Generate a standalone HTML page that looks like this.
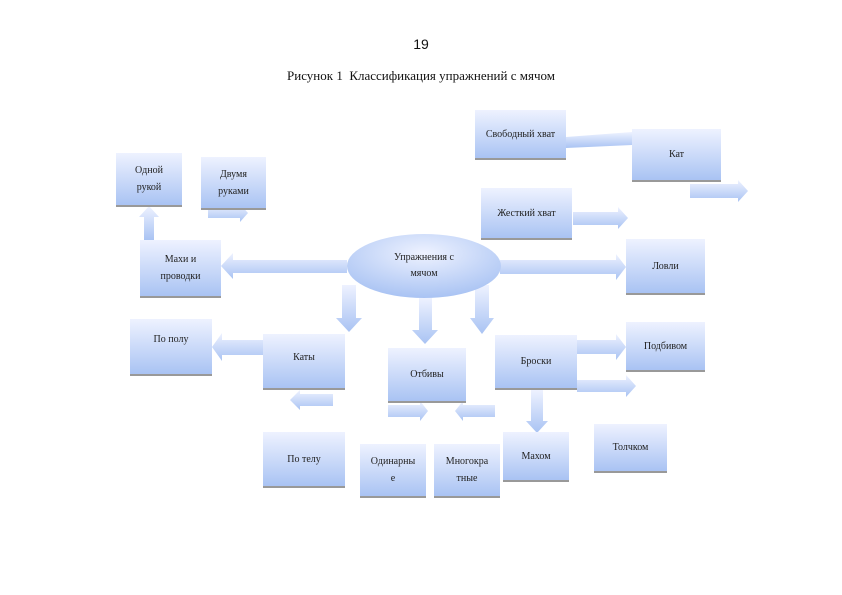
<!DOCTYPE html>
<html><head><meta charset="utf-8"><style>
body{margin:0;width:842px;height:595px;background:#fff;position:relative;overflow:hidden;font-family:"Liberation Serif",serif}
.b{position:absolute;background:linear-gradient(#eef2ff,#a9c3f3);border-bottom:2px solid #999;display:flex;align-items:center;justify-content:center;text-align:center;font-size:10px;line-height:17px;color:#222;box-sizing:border-box}
.t{position:absolute;width:842px;text-align:center;color:#111}
</style></head><body>
<div class="t" style="top:36px;font-family:'Liberation Sans',sans-serif;font-size:14px">19</div>
<div class="t" style="top:68px;font-size:13px">Рисунок 1&nbsp; Классификация упражнений с мячом</div>
<svg width="842" height="595" style="position:absolute;left:0;top:0">
<defs>
<linearGradient id="g" x1="0" y1="0" x2="0" y2="1"><stop offset="0" stop-color="#eef2ff"/><stop offset="1" stop-color="#a9c3f3"/></linearGradient>
<linearGradient id="h" x1="0" y1="0" x2="1" y2="0"><stop offset="0" stop-color="#eef2ff"/><stop offset="1" stop-color="#a9c3f3"/></linearGradient>
<radialGradient id="e" cx="0.5" cy="0.3" r="0.7"><stop offset="0" stop-color="#eef2ff"/><stop offset="1" stop-color="#a9c3f3"/></radialGradient>
</defs>
<g fill="url(#g)">
<!-- horizontal arrows -->
<polygon points="208,209 240,209 240,204 248,213 240,222 240,218 208,218"/>
<polygon points="233,260 347,260 347,273 233,273 233,279 221,266 233,253"/>
<polygon points="566,137 632,132 632,145 566,148"/>
<polygon points="690,184 738,184 738,180 748,191 738,202 738,198 690,198"/>
<polygon points="573,212 618,212 618,207 628,218 618,229 618,225 573,225"/>
<polygon points="500,260 616,260 616,254 626,267 616,280 616,274 500,274"/>
<polygon points="222,340 263,340 263,355 222,355 222,361 212,347 222,333"/>
<polygon points="300,394 333,394 333,406 300,406 300,410 290,400 300,390"/>
<polygon points="388,405 420,405 420,401 428,411 420,421 420,417 388,417"/>
<polygon points="463,405 495,405 495,417 463,417 463,421 455,411 463,401"/>
<polygon points="577,340 616,340 616,334 626,347 616,360 616,354 577,354"/>
<polygon points="577,380 626,380 626,375 636,386 626,397 626,392 577,392"/>
<!-- vertical arrows -->
<polygon points="144,240 144,217 139,217 149,206 159,217 154,217 154,240"/>
<polygon points="342,285 356,285 356,318 362,318 349,332 336,318 342,318"/>
<polygon points="419,298 432,298 432,330 438,330 425,344 412,330 419,330"/>
<polygon points="475,285 489,285 489,318 494,318 482,334 470,318 475,318"/>
<polygon points="531,390 543,390 543,421 548,421 537,433 526,421 531,421"/>
</g>
<ellipse cx="424" cy="266" rx="77" ry="32" fill="url(#e)"/>
<text x="424" y="260" font-size="10" text-anchor="middle" font-family="Liberation Serif,serif" fill="#222">Упражнения с</text>
<text x="424" y="276" font-size="10" text-anchor="middle" font-family="Liberation Serif,serif" fill="#222">мячом</text>
</svg>
<div class="b" style="left:116px;top:153px;width:66px;height:54px">Одной<br>рукой</div>
<div class="b" style="left:201px;top:157px;width:65px;height:53px">Двумя<br>руками</div>
<div class="b" style="left:140px;top:240px;width:81px;height:58px">Махи и<br>проводки</div>
<div class="b" style="left:475px;top:110px;width:91px;height:50px">Свободный хват</div>
<div class="b" style="left:632px;top:129px;width:89px;height:53px">Кат</div>
<div class="b" style="left:481px;top:188px;width:91px;height:52px">Жесткий хват</div>
<div class="b" style="left:626px;top:239px;width:79px;height:56px">Ловли</div>
<div class="b" style="left:130px;top:319px;width:82px;height:57px;padding-bottom:14px">По полу</div>
<div class="b" style="left:263px;top:334px;width:82px;height:56px;padding-bottom:8px">Каты</div>
<div class="b" style="left:388px;top:348px;width:78px;height:55px">Отбивы</div>
<div class="b" style="left:495px;top:335px;width:82px;height:55px">Броски</div>
<div class="b" style="left:626px;top:322px;width:79px;height:50px">Подбивом</div>
<div class="b" style="left:263px;top:432px;width:82px;height:56px">По телу</div>
<div class="b" style="left:360px;top:444px;width:66px;height:54px">Одинарны<br>е</div>
<div class="b" style="left:434px;top:444px;width:66px;height:54px">Многокра<br>тные</div>
<div class="b" style="left:503px;top:432px;width:66px;height:50px">Махом</div>
<div class="b" style="left:594px;top:424px;width:73px;height:49px">Толчком</div>
</body></html>
